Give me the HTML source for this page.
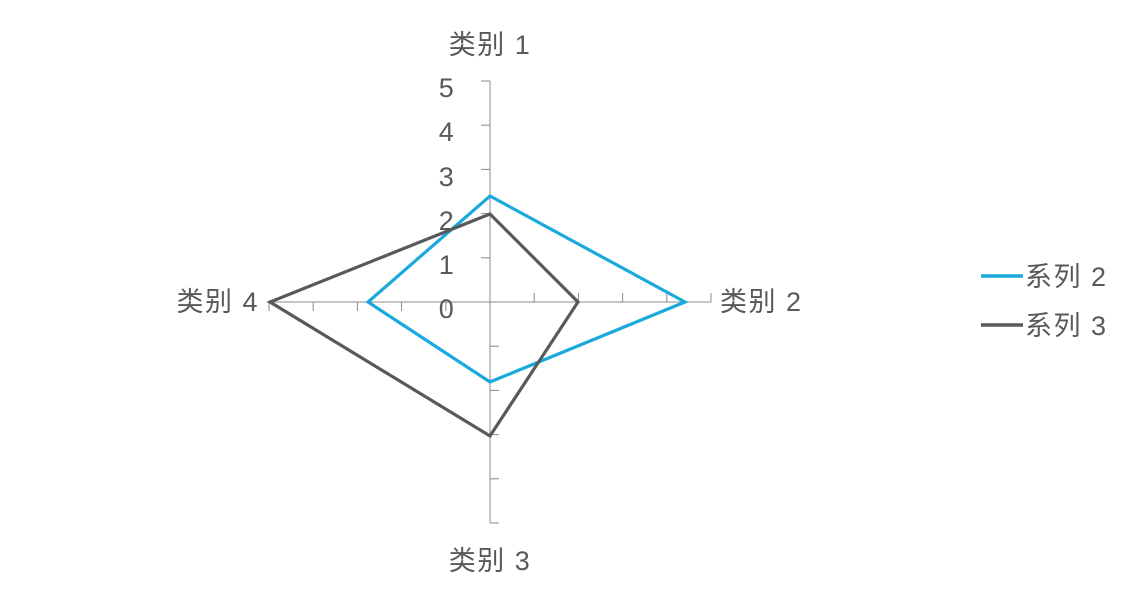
<!DOCTYPE html>
<html><head><meta charset="utf-8"><style>
html,body{margin:0;padding:0;background:#fff;}
svg text{font-family:"Liberation Sans","Noto Sans CJK SC",sans-serif;fill:#595959;font-size:27px;letter-spacing:1.5px;}
</style></head><body>
<svg width="1139" height="605" viewBox="0 0 1139 605" xmlns="http://www.w3.org/2000/svg">
<g stroke="#8c8c8c" stroke-width="1" fill="none">
<line x1="490" y1="81" x2="490" y2="523"/>
<line x1="269" y1="302" x2="711" y2="302"/>
<line x1="481" y1="257.8" x2="490" y2="257.8"/>
<line x1="481" y1="213.6" x2="490" y2="213.6"/>
<line x1="481" y1="169.4" x2="490" y2="169.4"/>
<line x1="481" y1="125.2" x2="490" y2="125.2"/>
<line x1="481" y1="81" x2="490" y2="81"/>
<line x1="490" y1="346.2" x2="499" y2="346.2"/>
<line x1="490" y1="390.4" x2="499" y2="390.4"/>
<line x1="490" y1="434.6" x2="499" y2="434.6"/>
<line x1="490" y1="478.8" x2="499" y2="478.8"/>
<line x1="490" y1="523" x2="499" y2="523"/>
<line x1="534.2" y1="293" x2="534.2" y2="302"/>
<line x1="578.4" y1="293" x2="578.4" y2="302"/>
<line x1="622.6" y1="293" x2="622.6" y2="302"/>
<line x1="666.8" y1="293" x2="666.8" y2="302"/>
<line x1="711" y1="293" x2="711" y2="302"/>
<line x1="445.8" y1="302" x2="445.8" y2="311"/>
<line x1="401.6" y1="302" x2="401.6" y2="311"/>
<line x1="357.4" y1="302" x2="357.4" y2="311"/>
<line x1="313.2" y1="302" x2="313.2" y2="311"/>
<line x1="269" y1="302" x2="269" y2="311"/>
</g>
<g text-anchor="middle">
<text x="447" y="97">5</text>
<text x="447" y="141">4</text>
<text x="447" y="186">3</text>
<text x="447" y="230">2</text>
<text x="447" y="274">1</text>
<text x="447" y="318">0</text>
</g>
<polygon points="490,196 685,302 490,382 368,302" fill="none" stroke="#1aa9dc" stroke-width="3.2" stroke-linejoin="miter"/>
<polygon points="490,214 578,302 490,436 270,302" fill="none" stroke="#595959" stroke-width="3.2" stroke-linejoin="miter"/>
<text x="490" y="54" text-anchor="middle">类别 1</text>
<text x="720" y="311">类别 2</text>
<text x="490" y="570" text-anchor="middle">类别 3</text>
<text x="259" y="311" text-anchor="end">类别 4</text>
<line x1="981" y1="276" x2="1023" y2="276" stroke="#1aa9dc" stroke-width="3.5"/>
<line x1="981" y1="325" x2="1023" y2="325" stroke="#595959" stroke-width="3.5"/>
<text x="1025" y="286">系列 2</text>
<text x="1025" y="335">系列 3</text>
</svg>
</body></html>
